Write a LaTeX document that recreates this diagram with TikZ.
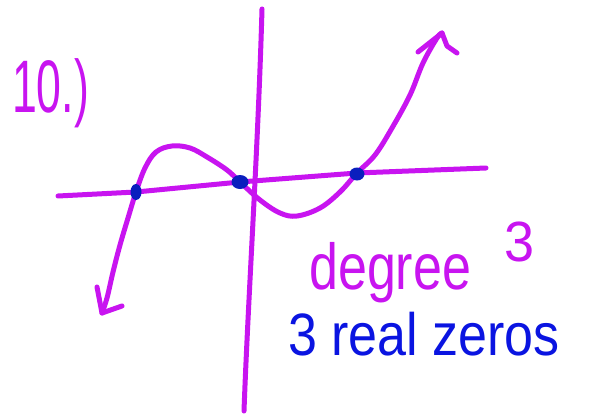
\documentclass[tikz,border=0pt]{standalone}
\usepackage{fontspec}
\setmainfont{Liberation Sans}
\definecolor{pen}{RGB}{200,20,240}
\definecolor{bluepen}{RGB}{10,20,225}
\definecolor{dotblue}{RGB}{10,30,190}
\begin{document}
\begin{tikzpicture}[x=1pt,y=-1pt,
  stroke/.style={draw=pen,line width=5pt,line cap=round,line join=round},
  txt/.style={inner sep=0pt,anchor=base west}]
\useasboundingbox[fill=white] (0,0) rectangle (593,417);
% axes
\coordinate (ytop) at (262,9);
\coordinate (ybot) at (244,411);
\coordinate (xleft) at (58,196);
\coordinate (xright) at (486,168);
\draw[stroke] (ytop) .. controls (258,150) and (248,300) .. (ybot);
\draw[stroke] (xleft) -- (136,192) -- (240,182) -- (357,173) -- (xright);
% curve
\coordinate (tipL) at (102,313);
\coordinate (tipR) at (442,33);
\draw[stroke] plot[smooth,tension=0.6] coordinates {(102,313) (107,298) (113,272) (120,245) (128,218) (136,192) (145,168) (156,152) (172,146) (190,148) (207,157) (227,170) (240,182) (260,200) (280,213) (297,216) (320,208) (340,192) (357,173) (375,155) (392,128) (410,95) (423,63) (437,38) (442,33)};
\draw[stroke] (97,287) -- (tipL) -- (122,306);
\draw[stroke] (418,52) -- (tipR) -- (447,46) -- (457,53);
% zeros
\fill[dotblue] (136,192) ellipse (5.5pt and 8pt);
\fill[dotblue] (240,182) ellipse (8.5pt and 7pt);
\fill[dotblue] (357,174) ellipse (7.5pt and 6.5pt);
% labels
\node[txt,text=pen,xscale=0.72,yscale=1.2] (num) at (12,112) {\fontsize{62}{70}\selectfont 10.)};
\node[txt,text=pen,yscale=1.25] (deg) at (309,289) {\fontsize{52}{60}\selectfont degree};
\node[txt,text=pen,yscale=1.05] (three) at (504,261) {\fontsize{54}{60}\selectfont 3};
\node[txt,text=bluepen,yscale=1.15] (zeros) at (288,355) {\fontsize{52}{60}\selectfont 3 real zeros};
\end{tikzpicture}
\end{document}
